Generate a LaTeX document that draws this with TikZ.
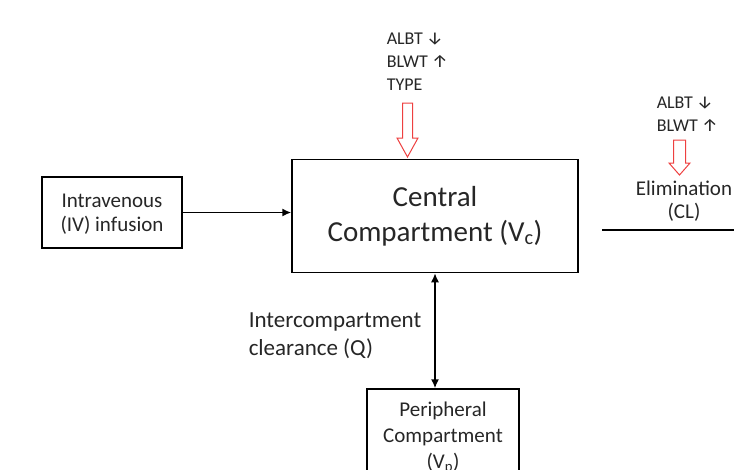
\documentclass[tikz,border=0pt]{standalone}
\usepackage{fontspec}
\setmainfont{Carlito}
\newfontfamily\arrowfont{Fira Sans}
\definecolor{covred}{RGB}{238,64,64}
\usetikzlibrary{arrows.meta}

\begin{document}
\begin{tikzpicture}[x=1pt,y=-1pt,>={Latex[length=9pt,width=8pt]},line width=1.5pt,text=black!85,
	box/.style={draw,line width=1.5pt,align=center,inner sep=0pt},
	cov label/.style={align=left,inner sep=0pt,font=\fontsize{18}{23}\selectfont},
	cov arrow/.style={draw=covred,fill=white,line width=1pt,line join=miter}]
	
	\useasboundingbox (0,0) rectangle (734,469);
	\clip (0,0) rectangle (734,469);
	
	\node[box,minimum width=286,minimum height=113,font=\fontsize{29}{35}\selectfont] (central) at (435,216) {Central\\Compartment (V\textsubscript{c})};
	\node[box,minimum width=140,minimum height=71,font=\fontsize{21}{24}\selectfont] (iv) at (112,212.5) {\raisebox{0pt}[17pt][0pt]{}Intravenous\\(IV) infusion};
	\node[box,minimum width=152,minimum height=98,font=\fontsize{21}{26}\selectfont] (periph) at (443,438) {Peripheral\\Compartment\\(V\textsubscript{p})};
	
	\node[cov label,anchor=west] (topcov) at (386,62) {ALBT {\arrowfont ↓}\\BLWT {\arrowfont ↑}\\TYPE};
	\node[cov label,anchor=west] (elimcov) at (656,114.5) {ALBT {\arrowfont ↓}\\BLWT {\arrowfont ↑}};
	\node[align=center,inner sep=0pt,font=\fontsize{21}{23}\selectfont] (elim) at (684,201) {Elimination\\(CL)};
	\node[align=left,inner sep=0pt,anchor=west,font=\fontsize{23}{28}\selectfont] (qlabel) at (248,336) {Intercompartment\\clearance (Q)};
	
	\coordinate (tipA) at (407.5,157);
	\coordinate (tipB) at (679.5,175);
	\coordinate (elimstart) at (602,230);
	\coordinate (elimend) at (734,230);
	
	% hollow covariate arrows
	\draw[cov arrow,shift={(tipA)}] (0,0) -- (-10.5,-19) -- (-5,-19) -- (-5,-54) -- (5,-54) -- (5,-19) -- (10.5,-19) -- cycle;
	\draw[cov arrow,shift={(tipB)}] (0,0) -- (-10.5,-12) -- (-6,-12) -- (-6,-35) -- (6,-35) -- (6,-12) -- (10.5,-12) -- cycle;
	
	\path[->]
	(iv.east) edge (iv.east -| central.west);
	\path[<->]
	(central.south) edge (central.south |- periph.north);
	\draw[line width=1.6pt] (elimstart) -- (elimend);
	
\end{tikzpicture}
\end{document}
